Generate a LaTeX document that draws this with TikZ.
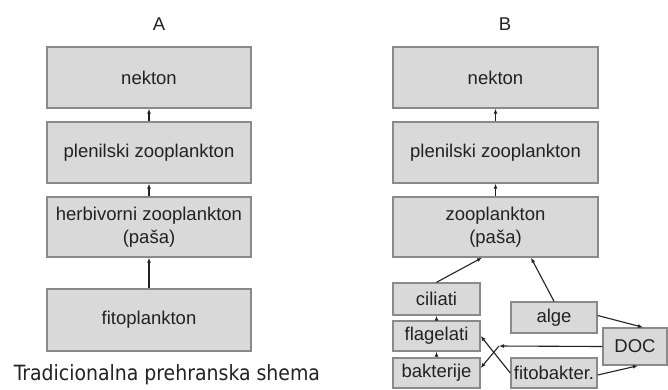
\documentclass[tikz,border=0pt]{standalone}
\usepackage{fontspec}
\setmainfont{Liberation Sans}
\newfontfamily\captionfont{DejaVu Sans Condensed}
\usetikzlibrary{arrows.meta,calc}
\definecolor{boxfill}{HTML}{D9D9D9}
\definecolor{boxline}{HTML}{8A8A8A}
\definecolor{ink}{HTML}{222222}
\tikzset{
  box/.style={draw=boxline, line width=1.4pt, fill=boxfill, inner sep=0pt,
    text=ink, font=\fontsize{18.5}{23}\selectfont, align=center},
  bigbox/.style={box, minimum width=204pt, minimum height=61pt},
  smallbox/.style={box, minimum width=87pt, minimum height=31pt},
  arr/.style={draw=ink, line width=1.1pt, -{Latex[length=5pt,width=4pt]}},
  paneltitle/.style={text=ink, font=\fontsize{18.5}{22}\selectfont}
}
\begin{document}
\begin{tikzpicture}[x=1pt, y=-1pt]
\useasboundingbox (0,0) rectangle (668,389);

% panel A: traditional food chain
\node[paneltitle] (titA) at (159,24) {A};
\node[bigbox] (nekA) at (149,77.5) {nekton};
\node[bigbox] (plenA) at (149,152.5) {plenilski zooplankton};
\node[bigbox, minimum height=60pt] (herbA) at (149,227) {herbivorni zooplankton\\(paša)};
\node[bigbox, minimum height=62pt] (fitoA) at (149,320) {fitoplankton};
\node[text=ink, font=\captionfont\fontsize{21}{24}\selectfont] (capA) at (167,375) {Tradicionalna prehranska shema};

\draw[arr] (fitoA.north) -- (herbA.south);
\draw[arr] (herbA.north) -- (plenA.south);
\draw[arr] (plenA.north) -- (nekA.south);

% panel B: microbial loop
\node[paneltitle] (titB) at (505,24) {B};
\node[bigbox, minimum width=205pt] (nekB) at (495.5,77.5) {nekton};
\node[bigbox, minimum width=205pt] (plenB) at (495.5,152.5) {plenilski zooplankton};
\node[bigbox, minimum width=205pt, minimum height=60pt] (zooB) at (495.5,227) {zooplankton\\(paša)};

\node[smallbox, minimum height=32pt] (cil) at (436.5,299) {ciliati};
\node[smallbox, minimum height=30pt] (flag) at (436.5,336) {flagelati};
\node[smallbox, minimum height=30pt] (bakt) at (436.5,373) {bakterije};
\node[smallbox, minimum width=86pt] (alge) at (554,317.5) {alge};
\node[smallbox, minimum width=86pt, minimum height=30pt] (fitob) at (554,373) {fitobakter.};
\node[smallbox, minimum width=64pt, minimum height=37pt] (doc) at (635,346.5) {DOC};

\coordinate (junc) at (499,346);

\draw[arr] (zooB.north) -- (plenB.south);
\draw[arr] (plenB.north) -- (nekB.south);
\draw[arr] (cil.north) -- ($(zooB.south)+(-13.5,0)$);
\draw[arr] (alge.north) -- ($(zooB.south)+(35.5,0)$);
\draw[arr] (flag.north) -- (cil.south);
\draw[arr] (bakt.north) -- (flag.south);
\draw[arr] ($(alge.east)+(0,-2)$) -- ($(doc.north)+(8,0)$);
\draw[arr] ($(fitob.east)+(0,2)$) -- ($(doc.south)+(3,0)$);
\draw[arr] (doc.west) -- (junc);
\draw[arr] (junc) -- ($(bakt.east)+(0,-5)$);
\draw[arr] (fitob.west) -- (flag.east);
\end{tikzpicture}
\end{document}
